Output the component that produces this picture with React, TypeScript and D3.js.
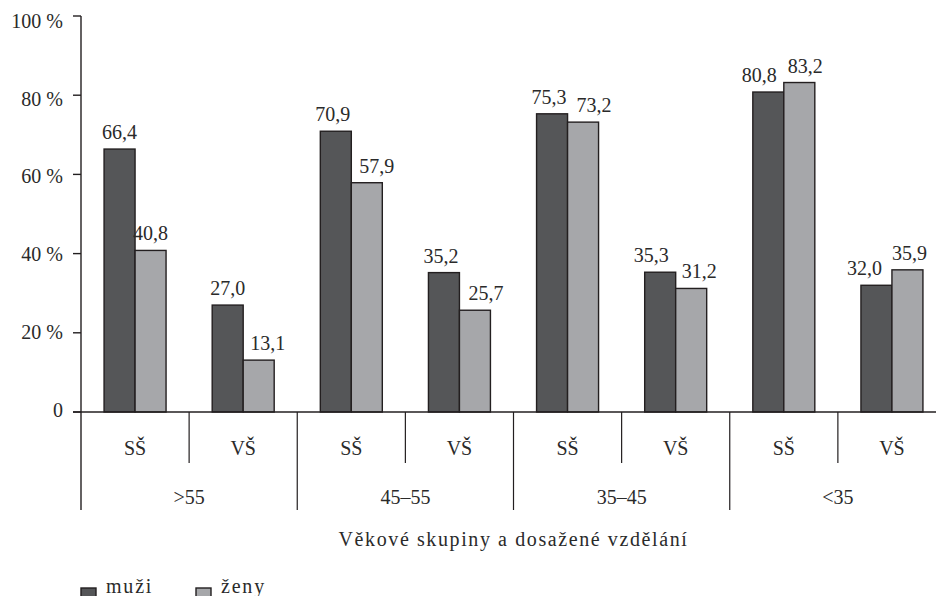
import React from "react";
import * as d3 from "d3";

const groups = [">55", "45–55", "35–45", "<35"];
const levels = ["SŠ", "VŠ"];
const series = ["muži", "ženy"];
const muzi = [66.4, 27.0, 70.9, 35.2, 75.3, 35.3, 80.8, 32.0];
const zeny = [40.8, 13.1, 57.9, 25.7, 73.2, 31.2, 83.2, 35.9];
const yTicks = [0, 20, 40, 60, 80, 100];
const axisTitle = "Věkové skupiny a dosažené vzdělání";

// label nudges (layout only)
const shiftDark = [0, 0, -3, -3, -3, -9, -9, -12];
const shiftLight = [0, 9, 10, 11, 11, 8, 6, 2];

const W = 936;
const H = 596;
const FONT = "'Liberation Serif', 'Times New Roman', serif";
const colors = ["#555658", "#a6a7aa"];
const STROKE = "#231f20";
const TXT = "#2a2a2a";

const fmt = (v: number) => v.toFixed(1).replace(".", ",");

export default function App() {
  const left = 81;
  const right = 946;
  const y = d3.scaleLinear().domain([0, 100]).range([412, 16]);
  const cats = groups.flatMap((g) => levels.map((l) => `${g}|${l}`));
  const x0 = d3.scaleBand<string>().domain(cats).range([left, right]).padding(0);
  const x1 = d3
    .scaleBand<string>()
    .domain(series)
    .range([0, x0.bandwidth()])
    .paddingInner(0)
    .paddingOuter(0.744);
  const gx = d3.scaleBand<string>().domain(groups).range([left, right]).padding(0);
  const base = y(0);
  const values = [muzi, zeny];
  const shifts = [shiftDark, shiftLight];

  return (
    <svg
      width={W}
      height={H}
      style={{ position: "absolute", left: 0, top: 0, background: "#fff" }}
      fontFamily={FONT}
    >
      {cats.map((c, i) => (
        <g key={c}>
          {series.map((s, si) => {
            const v = values[si][i];
            const bx = (x0(c) as number) + (x1(s) as number);
            const bw = x1.bandwidth();
            return (
              <g key={s}>
                <rect
                  x={bx}
                  y={y(v)}
                  width={bw}
                  height={base - y(v)}
                  fill={colors[si]}
                  stroke={STROKE}
                  strokeWidth={1.4}
                />
                <text
                  x={bx + bw / 2 + shifts[si][i]}
                  y={y(v) - 10}
                  textAnchor="middle"
                  fontSize={20}
                  fill={TXT}
                >
                  {fmt(v)}
                </text>
              </g>
            );
          })}
        </g>
      ))}
      <line x1={left} x2={left} y1={y(100)} y2={510} stroke={STROKE} strokeWidth={1.4} />
      {yTicks.map((t) => (
        <g key={t}>
          <line x1={left - 8} x2={left} y1={y(t)} y2={y(t)} stroke={STROKE} strokeWidth={1.4} />
          <text
            x={63}
            y={y(t) + 6 - 1.2 + 0.07 * t}
            textAnchor="end"
            fontSize={20}
            fill={TXT}
          >
            {t === 0 ? "0" : `${t} %`}
          </text>
        </g>
      ))}
      <line x1={left - 8} x2={W} y1={base} y2={base} stroke={STROKE} strokeWidth={1.4} />
      {cats.map((c, i) => {
        const xe = (x0(c) as number) + x0.bandwidth();
        const isGroupEnd = i % 2 === 1;
        return (
          <g key={c}>
            <line
              x1={xe}
              x2={xe}
              y1={base}
              y2={isGroupEnd ? 510 : 463}
              stroke={STROKE}
              strokeWidth={1.2}
            />
            <text
              x={(x0(c) as number) + x0.bandwidth() / 2}
              y={455}
              textAnchor="middle"
              fontSize={20}
              fill={TXT}
            >
              {c.split("|")[1]}
            </text>
          </g>
        );
      })}
      {groups.map((g) => (
        <text
          key={g}
          x={(gx(g) as number) + gx.bandwidth() / 2}
          y={504}
          textAnchor="middle"
          fontSize={20}
          fill={TXT}
        >
          {g}
        </text>
      ))}
      <text
        x={(left + right) / 2}
        y={546}
        textAnchor="middle"
        fontSize={20}
        letterSpacing={1.6}
        fill={TXT}
      >
        {axisTitle}
      </text>
      {series.map((s, si) => {
        const lx = si === 0 ? 81 : 196;
        return (
          <g key={s}>
            <rect x={lx} y={588} width={15} height={15} fill={colors[si]} stroke={STROKE} strokeWidth={1.4} />
            <text x={lx + 25} y={593} fontSize={20} letterSpacing={1.8} fill={TXT}>
              {s}
            </text>
          </g>
        );
      })}
    </svg>
  );
}
